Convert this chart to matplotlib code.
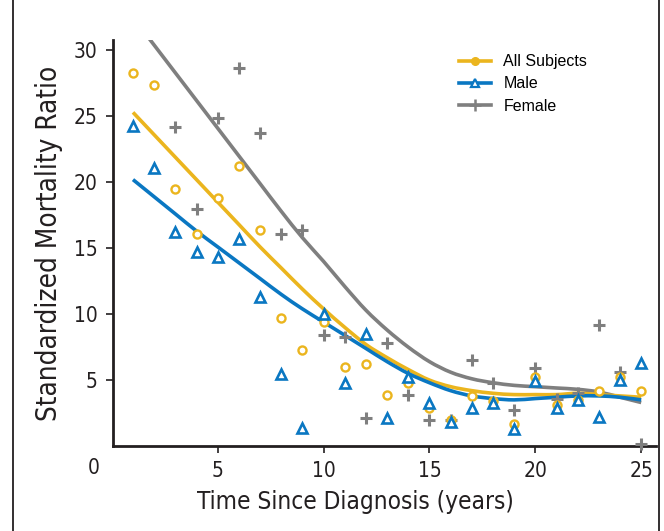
import matplotlib
matplotlib.use("Agg")
import matplotlib.pyplot as plt
from matplotlib.lines import Line2D
from matplotlib.path import Path
from matplotlib.patches import PathPatch

plt.rcParams['font.family'] = ['DejaVu Sans']
plt.rcParams['font.stretch'] = 'condensed'

years = list(range(1, 26))

# observed ratios per year
all_obs = [28.3, 27.4, 19.5, 16.1, 18.8, 21.2, 16.4, 9.7, 7.3, 9.4,
           6.0, 6.2, 3.9, 4.8, 2.9, 2.0, 3.8, 3.4, 1.7, 5.2,
           3.1, 3.5, 4.2, 5.2, 4.2]
male_obs = [24.3, 21.1, 16.2, 14.7, 14.3, 15.7, 11.3, 5.5, 1.4, 10.0,
            4.8, 8.5, 2.1, 5.2, 3.3, 1.8, 2.9, 3.3, 1.3, 4.9,
            2.9, 3.5, 2.2, 5.0, 6.3]
fem_years = list(range(3, 26))
fem_obs = [24.2, 18.0, 24.9, 28.7, 23.7, 16.1, 16.4, 8.4, 8.3, 2.1,
           7.8, 3.9, 2.0, 2.0, 6.5, 4.8, 2.7, 5.9, 3.6, 4.0,
           9.2, 5.6, 0.15]

# smoothed fits
all_fit = [25.3, 23.6, 21.9, 20.2, 18.5, 16.8, 15.1, 13.5, 11.9, 10.4,
           9.0, 7.7, 6.7, 5.8, 5.0, 4.5, 4.2, 4.0, 3.9, 3.9,
           3.9, 4.0, 3.9, 3.8, 3.7]
male_fit = [20.2, 18.9, 17.6, 16.3, 15.1, 13.9, 12.7, 11.5, 10.4, 9.4,
            8.4, 7.4, 6.4, 5.5, 4.8, 4.2, 3.8, 3.6, 3.5, 3.6,
            3.7, 3.8, 3.8, 3.7, 3.5]
fem_fit = [32.5, 30.4, 28.3, 26.2, 24.1, 22.0, 19.9, 17.8, 15.8, 14.0,
           12.1, 10.3, 8.8, 7.5, 6.4, 5.6, 5.1, 4.8, 4.6, 4.5,
           4.4, 4.3, 4.1, 3.7, 3.3]

xticks = [5, 10, 15, 20, 25]
yticks = [5, 10, 15, 20, 25, 30]

gold = '#EBB51E'
blue = '#0A77C2'
gray = '#7F7F7F'
ink = '#231F20'


def smooth_path(xs, ys):
    # catmull-rom style bezier through the read points
    verts = [(xs[0], ys[0])]
    codes = [Path.MOVETO]
    n = len(xs)
    for i in range(n - 1):
        x0, y0 = (xs[i - 1], ys[i - 1]) if i > 0 else (xs[i], ys[i])
        x1, y1 = xs[i], ys[i]
        x2, y2 = xs[i + 1], ys[i + 1]
        x3, y3 = (xs[i + 2], ys[i + 2]) if i + 2 < n else (x2, y2)
        c1 = (x1 + (x2 - x0) / 6, y1 + (y2 - y0) / 6)
        c2 = (x2 - (x3 - x1) / 6, y2 - (y3 - y1) / 6)
        verts += [c1, c2, (x2, y2)]
        codes += [Path.CURVE4] * 3
    return Path(verts, codes)


fig = plt.figure(figsize=(6.64, 5.31), dpi=100)
ax = fig.add_axes([0.170, 0.160, 0.818, 0.765])

for fit, col, z in [(fem_fit, gray, 2), (all_fit, gold, 3), (male_fit, blue, 4)]:
    ax.add_patch(PathPatch(smooth_path(years, fit), fc='none', ec=col,
                           lw=2.6, capstyle='butt', zorder=z))

ax.plot(fem_years, fem_obs, ls='none', marker='+', ms=9, mew=2.2,
        color=gray, clip_on=False, zorder=5)
ax.plot(years, all_obs, ls='none', marker='o', ms=5.8, mew=1.7,
        mfc='white', mec=gold, clip_on=False, zorder=6)
ax.plot(years, male_obs, ls='none', marker='^', ms=6.8, mew=1.9,
        mfc='white', mec=blue, clip_on=False, zorder=7)

ax.set_xlim(0.05, 25.7)
ax.set_ylim(0, 30.8)
ax.set_xticks(xticks)
ax.set_yticks(yticks)
ax.tick_params(axis='both', direction='out', length=5, width=1.2,
               colors=ink, labelsize=15, pad=6)
for s in ['top', 'right']:
    ax.spines[s].set_visible(False)
for s in ['left', 'bottom']:
    ax.spines[s].set_linewidth(2)
    ax.spines[s].set_color(ink)

ax.text(-0.85, -1.7, '0', ha='center', va='center', fontsize=15,
        color=ink, clip_on=False)

ax.set_xlabel('Time Since Diagnosis (years)', fontsize=17.5, color=ink)
ax.xaxis.set_label_coords(0.446, -0.108)
ax.set_ylabel('Standardized Mortality Ratio', fontsize=20, color=ink,
              labelpad=8)

handles = [
    Line2D([], [], color=gold, lw=2.6, marker='o', ms=5.5, mfc=gold, mec=gold),
    Line2D([], [], color=blue, lw=2.6, marker='^', ms=6, mew=1.6,
           mfc='white', mec=blue),
    Line2D([], [], color=gray, lw=2.6, marker='+', ms=8, mew=1.8),
]
ax.legend(handles, ['All Subjects', 'Male', 'Female'], loc='upper left',
          bbox_to_anchor=(0.61, 1.0), frameon=False, handlelength=2.0,
          labelspacing=0.45, handletextpad=0.8,
          prop={'family': ['Liberation Sans', 'DejaVu Sans'],
                'stretch': 'normal', 'size': 11.5})

# thin frame lines at the figure's left and right edges
fig.add_artist(Line2D([13 / 664, 13 / 664], [0, 1], color=ink, lw=1.3,
                      transform=fig.transFigure))
fig.add_artist(Line2D([659 / 664, 659 / 664], [0, 1], color=ink, lw=1.3,
                      transform=fig.transFigure))

fig.savefig('out.png', dpi=100)
